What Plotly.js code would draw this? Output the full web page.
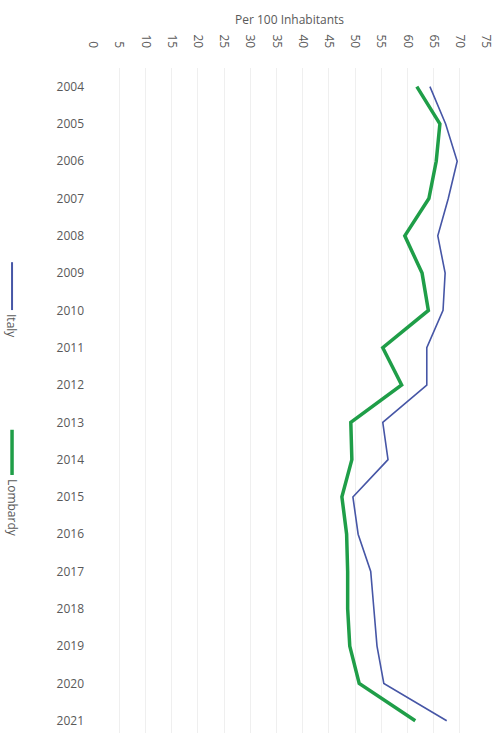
<!DOCTYPE html>
<html>
<head>
<meta charset="utf-8">
<script src="https://cdn.plot.ly/plotly-3.0.1.min.js"></script>
<style>html,body{margin:0;padding:0;background:#fff;}#chart{width:501px;height:733px;}</style>
</head>
<body>
<div id="chart"></div>
<script>
const years = ['2004','2005','2006','2007','2008','2009','2010','2011','2012','2013','2014','2015','2016','2017','2018','2019','2020','2021'];
const italy = [64.3, 67.3, 69.5, 67.8, 65.8, 67.2, 66.8, 63.7, 63.7, 55.3, 56.3, 49.6, 50.6, 53.0, 53.6, 54.2, 55.5, 67.5];
const lombardy = [61.8, 66.2, 65.5, 64.1, 59.5, 62.8, 64.0, 55.3, 58.9, 49.2, 49.4, 47.5, 48.4, 48.6, 48.6, 49.0, 50.8, 61.5];
const xTicks = [0,5,10,15,20,25,30,35,40,45,50,55,60,65,70,75];

const gray = '#595959';
const fam = 'Open Sans, Liberation Sans, Arial, sans-serif';
const traces = [
  {x: italy, y: years, type: 'scatter', mode: 'lines', name: 'Italy',
   line: {color: '#4656a6', width: 1.6}},
  {x: lombardy, y: years, type: 'scatter', mode: 'lines', name: 'Lombardy',
   line: {color: '#1f9e48', width: 3.5}}
];
const layout = {
  width: 501, height: 733,
  margin: {l: 93, r: 15, t: 68, b: 0},
  paper_bgcolor: '#fff', plot_bgcolor: '#fff',
  showlegend: false,
  font: {family: fam, color: gray, size: 11},
  xaxis: {
    side: 'top', range: [0, 75], tickvals: xTicks, ticktext: xTicks.map(String),
    tickangle: 90, showgrid: true, gridcolor: '#efefef', gridwidth: 1,
    zeroline: false, showline: false, ticks: '', ticklabelstandoff: 17,
    tickfont: {size: 12, color: gray},
    title: {text: 'Per 100 Inhabitants', font: {size: 12, color: gray}, standoff: 7}
  },
  yaxis: {
    type: 'category', categoryarray: years, range: [17.33, -0.5],
    showgrid: false, zeroline: false, showline: false, ticks: '',
    ticklabelstandoff: 8, tickfont: {size: 12, color: gray}
  },
  shapes: [
    {type: 'line', xref: 'paper', yref: 'paper', x0: -0.206, x1: -0.206, y0: 0.708, y1: 0.636,
     line: {color: '#4656a6', width: 2}},
    {type: 'line', xref: 'paper', yref: 'paper', x0: -0.206, x1: -0.206, y0: 0.456, y1: 0.388,
     line: {color: '#1f9e48', width: 3.5}}
  ],
  annotations: [
    {text: 'Italy', xref: 'paper', yref: 'paper', x: -0.206, y: 0.633, xanchor: 'center', yanchor: 'top',
     textangle: 90, showarrow: false, font: {size: 12, color: gray}},
    {text: 'Lombardy', xref: 'paper', yref: 'paper', x: -0.206, y: 0.385, xanchor: 'center', yanchor: 'top',
     textangle: 90, showarrow: false, font: {size: 12, color: gray}}
  ]
};
Plotly.newPlot('chart', traces, layout, {displayModeBar: false, staticPlot: true});
</script>
</body>
</html>
